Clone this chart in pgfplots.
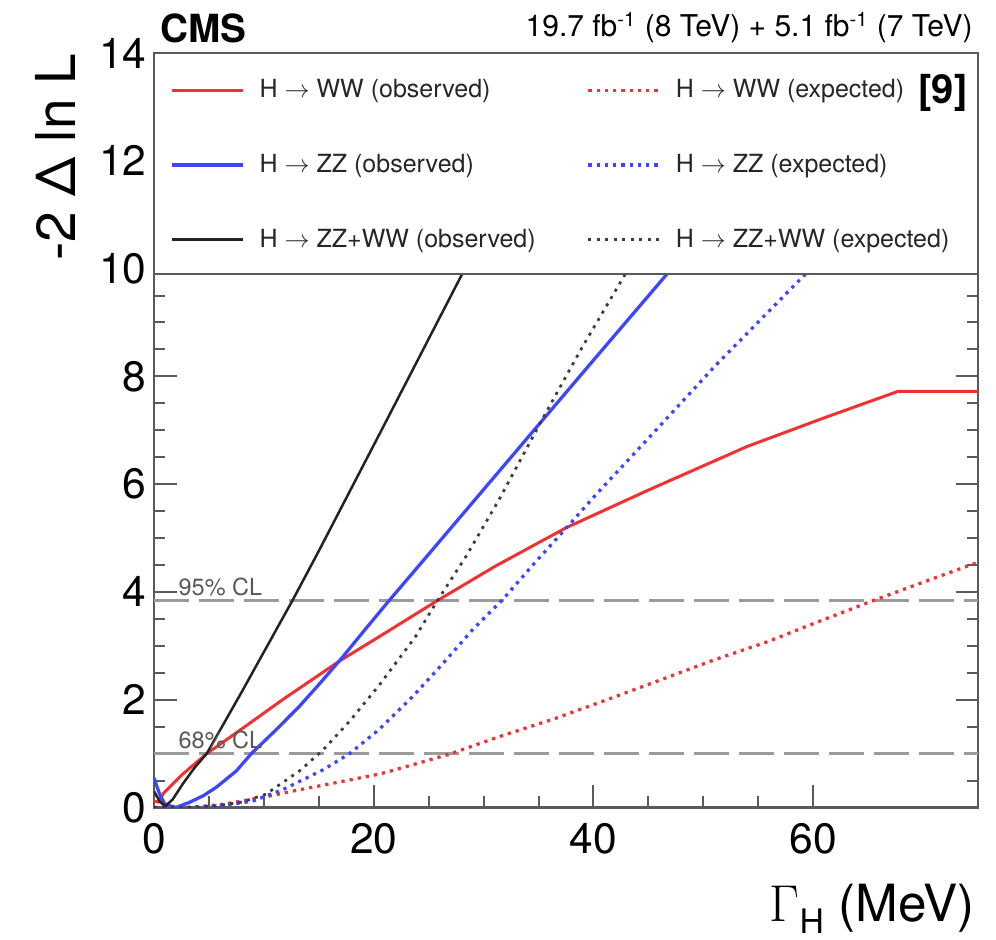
\documentclass[border=0pt]{standalone}
\usepackage{pgfplots}
\pgfplotsset{compat=1.18}
\usepackage{fontspec}
\setmainfont{TeX Gyre Heros}
\definecolor{cred}{RGB}{240,50,50}
\definecolor{cblue}{RGB}{60,70,255}
\definecolor{cblk}{RGB}{35,35,35}
\definecolor{cdot}{RGB}{60,60,60}
\definecolor{cgray}{RGB}{155,155,155}
\definecolor{cframe}{RGB}{90,90,90}
\begin{document}
\begin{tikzpicture}
\begin{axis}[name=ax, scale only axis, width=329.6pt, height=301.8pt,
  xmin=0, xmax=75, ymin=0, ymax=14,
  xtick={0,20,40,60}, ytick={0,2,...,14},
  minor x tick num=3, minor y tick num=3,
  tick align=inside,
  major tick length=9pt, minor tick length=4.5pt,
  axis line style={cframe, line width=1pt},
  every tick/.style={cframe, line width=0.8pt},
  /pgf/number format/assume math mode=true,
  ticklabel style={font=\fontsize{17}{17}\selectfont, inner sep=0pt},
  yticklabel style={xshift=-2.8pt},
  xticklabel style={yshift=-6.2pt},
  legend columns=2,
  legend style={draw=none, fill=none, at={(axis cs:1.45,13.575)}, anchor=north west,
    inner sep=0pt, column sep=0pt, row sep=18.9pt,
    font=\fontsize{10}{12}\selectfont, text=black!85,
    nodes={inner sep=0pt, text height=8.5pt, text depth=2.5pt}},
  legend cell align=left,
  legend image code/.code={\draw[#1] (0pt,0pt) -- (28.4pt,0pt); \path (34.4pt,0pt);},
]
% CL lines
\addplot[forget plot, cgray, line width=1.2pt, dash pattern=on 14pt off 4pt] coordinates {(0,3.84) (75,3.84)};
\addplot[forget plot, cgray, line width=1.2pt, dash pattern=on 14pt off 4pt] coordinates {(0,1) (75,1)};
% WW observed
\addplot[cred, line width=1.2pt] coordinates {(0,0.12) (0.4,0.1) (0.85,0.26) (2.5,0.6) (4.8,1.0) (8,1.46) (11.7,2.0) (16.9,2.72) (20.5,3.17) (25.8,3.84) (31,4.47) (37.5,5.19) (45,5.89) (54,6.7) (61,7.23) (67.7,7.72) (75,7.72)};
\addlegendentry{\makebox[130.8pt][l]{H $\rightarrow$ WW (observed)}}
% WW expected
\addplot[cred, line width=1.3pt, dash pattern=on 1.3pt off 2pt] coordinates {(0,0) (3,0) (6,0.05) (10.2,0.2) (13,0.32) (16.3,0.45) (20.5,0.62) (22.3,0.72) (26.9,0.99) (31.5,1.32) (36.5,1.65) (41.5,2.02) (46.8,2.42) (51,2.74) (55.9,3.08) (60.5,3.45) (65.6,3.85) (70,4.18) (75,4.55)};
\addlegendentry{H $\rightarrow$ WW (expected)}
% ZZ observed
\addplot[cblue, line width=1.3pt] coordinates {(0,0.55) (0.5,0.25) (1,0.06) (2,0) (3.27,0.1) (4.5,0.22) (5.7,0.38) (7.5,0.68) (8.86,1.0) (11,1.42) (13.2,1.87) (15,2.28) (17.2,2.8) (19,3.25) (21.4,3.84) (25,4.7) (30,5.9) (35.5,7.22) (40,8.3) (46.7,9.9)};
\addlegendentry{\makebox[130.8pt][l]{H $\rightarrow$ ZZ (observed)}}
% ZZ expected
\addplot[cblue, line width=1.3pt, dash pattern=on 1.3pt off 2pt] coordinates {(0,0) (3,0) (6,0.03) (9,0.12) (11.7,0.33) (15.4,0.7) (17.8,1.0) (20.5,1.45) (23.5,2.05) (26.6,2.74) (29,3.3) (31.7,3.85) (34.7,4.55) (37.5,5.18) (40.2,5.8) (45,6.85) (51.1,8.2) (59.3,9.9)};
\addlegendentry{H $\rightarrow$ ZZ (expected)}
% combined observed
\addplot[cblk, line width=1pt] coordinates {(0,0.3) (0.5,0.12) (1,0.02) (1.7,0.15) (2.66,0.45) (3.7,0.74) (4.8,1.0) (8,2.15) (12.6,3.84) (15,4.76) (20.5,6.92) (24,8.3) (28.05,9.9)};
\addlegendentry{\makebox[130.8pt][l]{H $\rightarrow$ ZZ+WW (observed)}}
% combined expected
\addplot[cdot, line width=1.1pt, dash pattern=on 1.2pt off 2.2pt] coordinates {(0,0) (2,0) (4,0.01) (6,0.04) (8,0.1) (10.2,0.25) (13.25,0.68) (15.4,1.07) (17.8,1.6) (20.5,2.27) (23.8,3.17) (25.8,3.84) (28.4,4.66) (31.4,5.71) (35.6,7.3) (39,8.55) (42.9,9.9)};
\addlegendentry{H $\rightarrow$ ZZ+WW (expected)}
% legend box
\fill[white] (axis cs:0,9.9) rectangle (axis cs:75,14);
\draw[cframe, line width=1pt] (axis cs:0,9.9) rectangle (axis cs:75,14);
\node[anchor=base west, text=black!65, font=\fontsize{9.4}{10}\selectfont, inner sep=0pt] at (axis cs:2.2,3.94) {95\% CL};
\node[anchor=base west, text=black!65, font=\fontsize{9.4}{10}\selectfont, inner sep=0pt] at (axis cs:2.2,1.1) {68\% CL};
\node[font=\bfseries\fontsize{16}{18}\selectfont, inner sep=0pt] at (rel axis cs:0.9575,0.947) {[9]};
\end{axis}
\node[anchor=base west, inner sep=0pt, font=\bfseries\fontsize{15.5}{16}\selectfont] at ([xshift=2.4pt, yshift=4pt]ax.north west) {CMS};
\node[anchor=base east, inner sep=0pt, font=\fontsize{12}{14}\selectfont] at ([xshift=-2pt, yshift=6.4pt]ax.north east) {19.7 fb\textsuperscript{-1} (8 TeV) + 5.1 fb\textsuperscript{-1} (7 TeV)};
\node[rotate=90, anchor=east, inner sep=0pt, font=\fontsize{22}{24}\selectfont] at ([xshift=-39.6pt]ax.north west) {-2 Δ ln L};
\node[anchor=base east, inner sep=0pt, font=\fontsize{20.5}{24}\selectfont] at ([xshift=-1pt, yshift=-45.4pt]ax.south east) {{\fontsize{22}{24}\selectfont$\Gamma$}\raisebox{-5pt}{\fontsize{13.5}{14}\selectfont H} (MeV)};
\pgfresetboundingbox
\path ([shift={(-61.6pt,-52.6pt)}]ax.south west) rectangle ([shift={(7.2pt,21.2pt)}]ax.north east);
\end{tikzpicture}
\end{document}
